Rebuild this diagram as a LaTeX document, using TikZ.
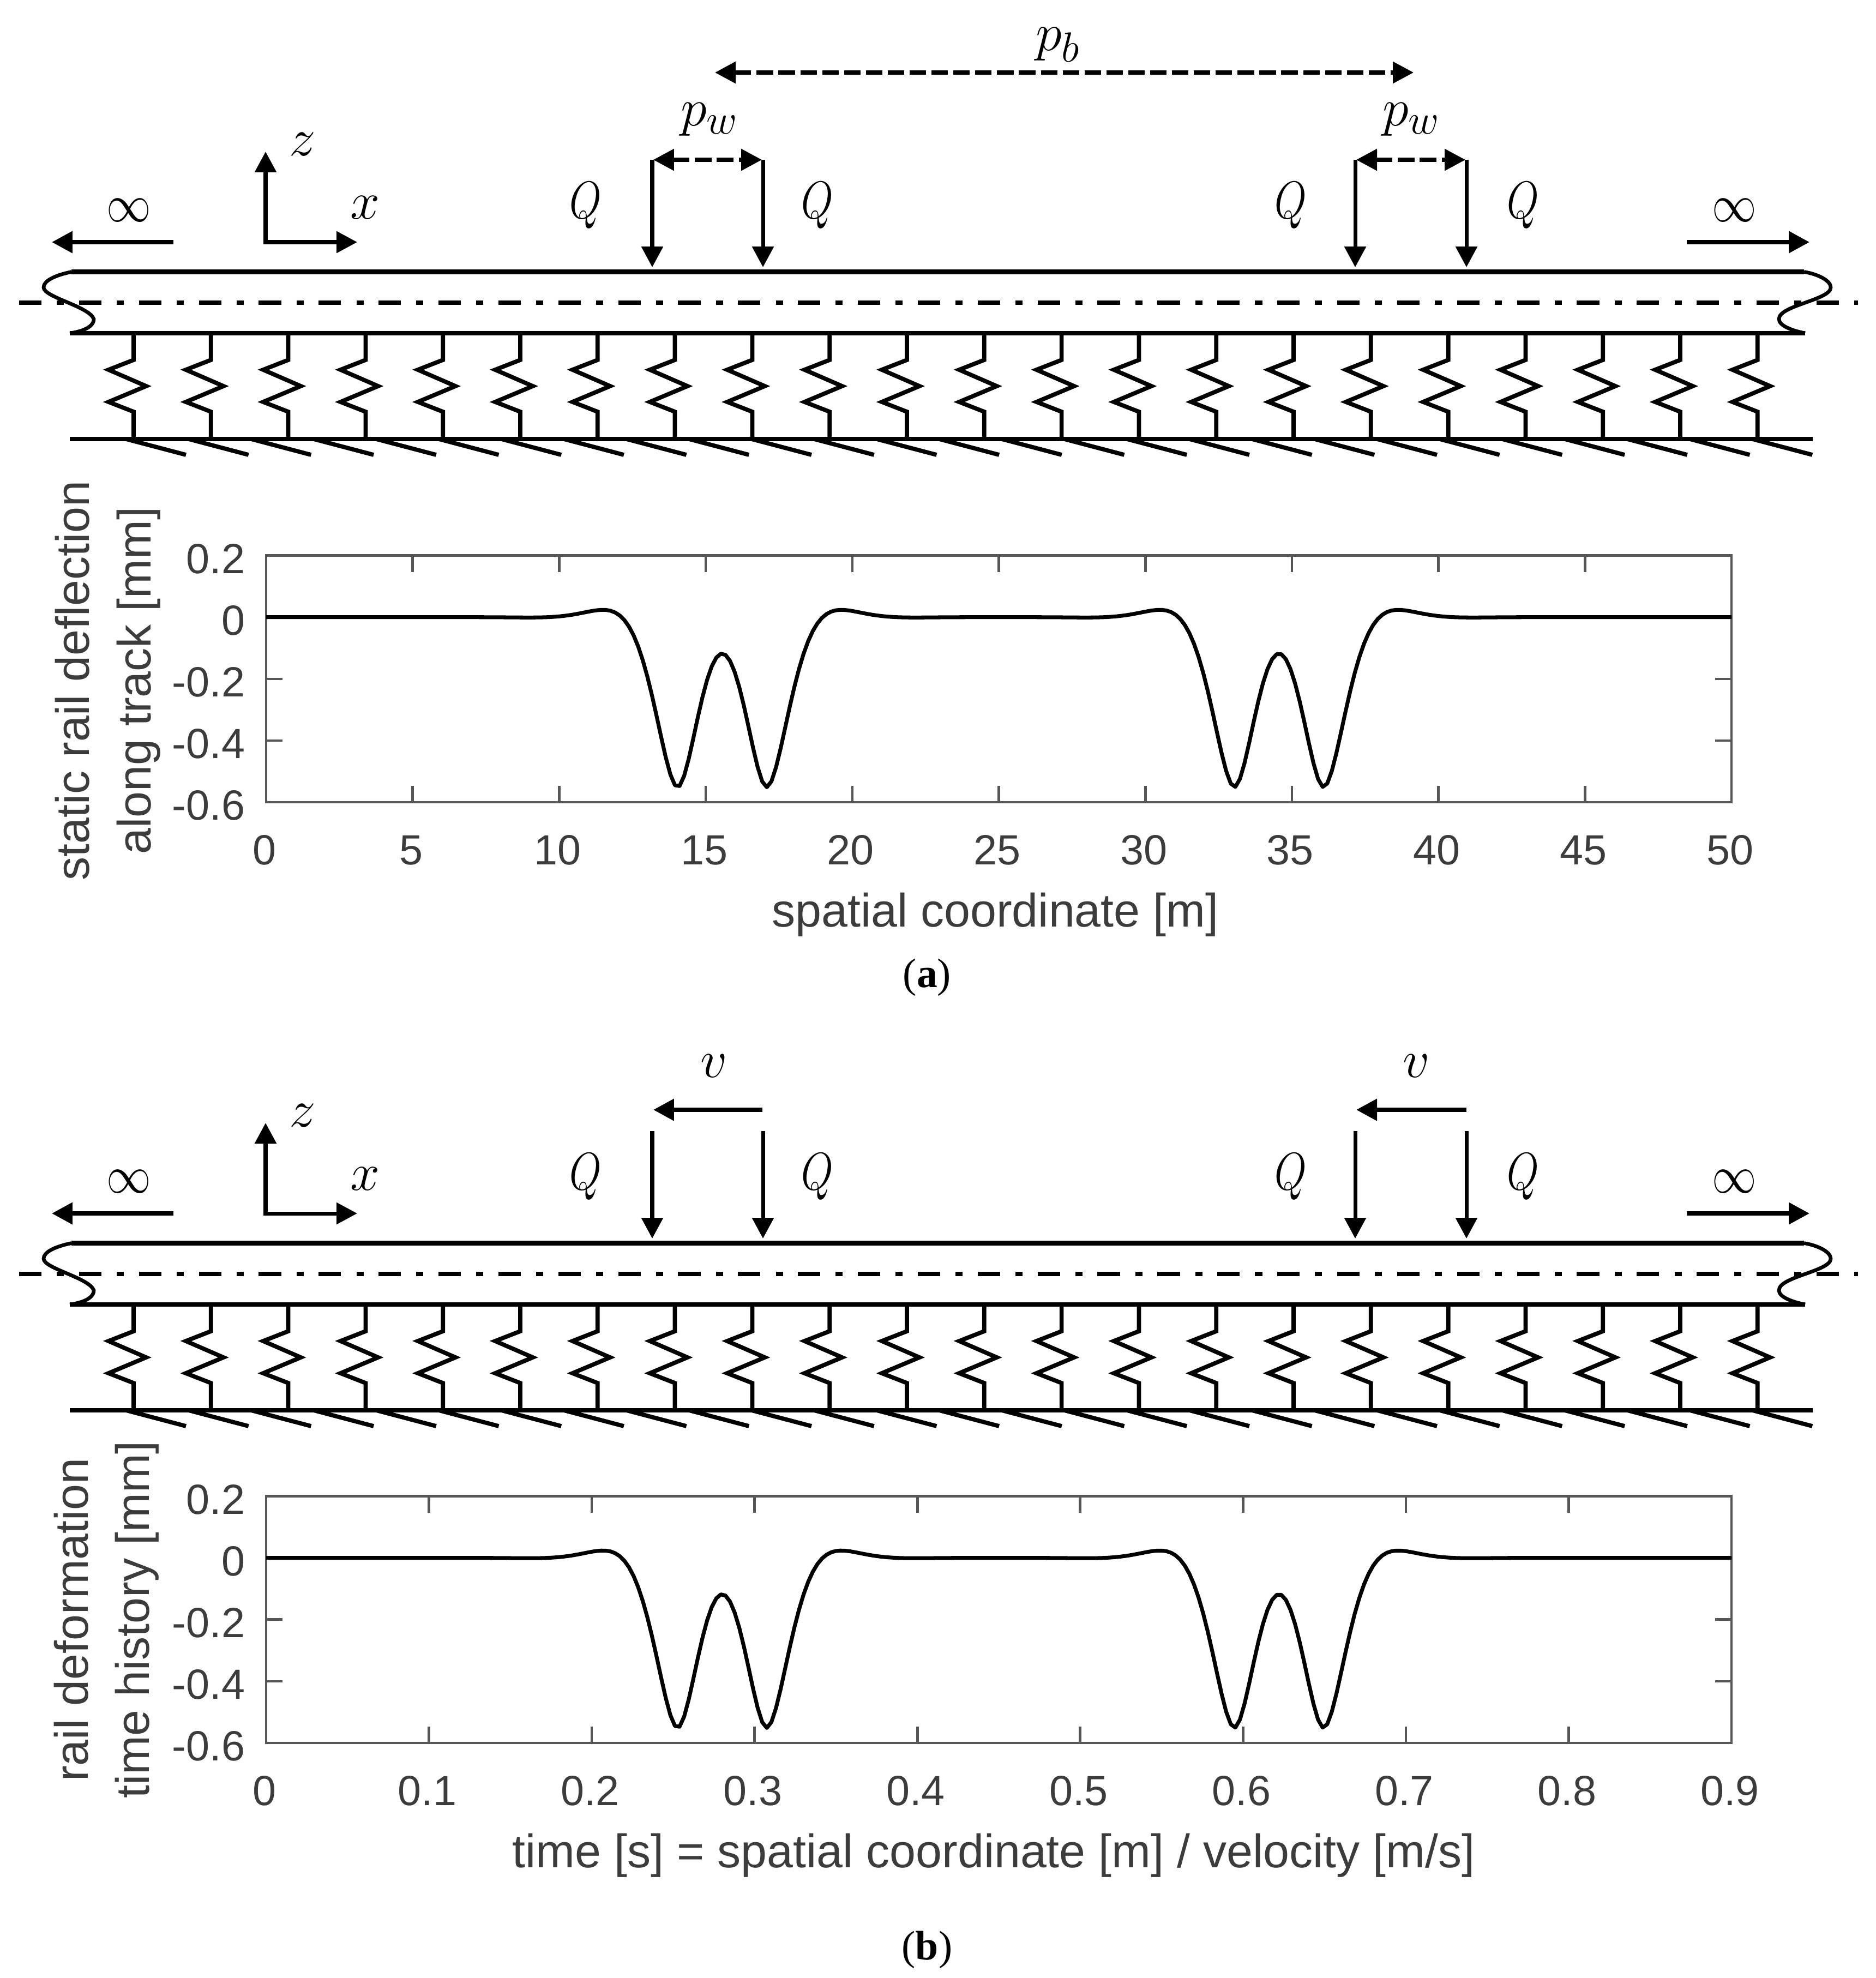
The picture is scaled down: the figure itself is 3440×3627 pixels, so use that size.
\documentclass[tikz,border=0pt]{standalone}
\usepackage{fix-cm}
\usepackage{graphicx}
\usepackage{amsmath,amssymb}
\usepackage{fontspec}
\setmainfont{Liberation Sans}
\newfontfamily\capfont{Liberation Serif}
\DeclareMathSizes{27.6}{27.6}{22}{17}
\usetikzlibrary{arrows.meta}
\definecolor{axisgray}{HTML}{565656}
\definecolor{textgray}{HTML}{3C3C3C}
\tikzset{
	>={Triangle[length=10.8pt,width=11pt]},
	rail/.style={line width=2.5pt},
	railend/.style={line width=1.9pt},
	centerline/.style={line width=2.5pt,dash pattern=on 11.7pt off 8pt on 3.7pt off 7.84pt},
	spring/.style={line width=2.2pt,miter limit=10},
	hatchline/.style={line width=2.2pt},
	force/.style={line width=2pt,->},
	span/.style={line width=2pt,<->,dash pattern=on 8.6pt off 2.8pt},
	farrow/.style={line width=2.3pt,->},
	mathlab/.style={font=\fontsize{27.6}{30}\selectfont,inner sep=0pt,text=black},
	axframe/.style={line width=1.3pt,draw=axisgray},
	axtick/.style={line width=1.3pt,draw=axisgray},
	defl/.style={line width=2pt,line join=round},
	ticklab/.style={font=\fontsize{22}{24}\selectfont,inner sep=0pt,text=textgray},
	axlab/.style={font=\fontsize{24.5}{26}\selectfont,inner sep=0pt,text=textgray},
	caplab/.style={font=\capfont\fontsize{21.5}{24}\selectfont,inner sep=0pt,text=black},
	declare function={
		eta(\d)=exp(-1.235*abs(\d))*(cos(deg(1.235*abs(\d)))+sin(deg(1.235*abs(\d))));
		railw(\s)=-0.57*(eta(\s-14.05)+eta(\s-17.07)+eta(\s-33.05)+eta(\s-36.07));
	}
}
\begin{document}
\begin{tikzpicture}[x=0.01cm,y=-0.01cm]
	\useasboundingbox (0,0) rectangle (3440,3627);
	\def\xl{488}
	\def\xr{3175}
	\def\ya{1018.6}
	\def\yb{1471}
	\def\yc{2743.5}
	\def\yd{3196}
	\foreach \dy in {0,1781} {
		\begin{scope}[shift={(0,\dy)}]
			\coordinate (RTL) at (131,498.5);
			\coordinate (RTR) at (3308,498.5);
			\coordinate (RBL) at (128,611);
			\coordinate (RBR) at (3310,611);
			\coordinate (CL) at (35,555);
			\coordinate (CR) at (3407,555);
			\coordinate (GL) at (128,805);
			\coordinate (GR) at (3324,805);
			\draw[rail] (RTL) -- (RTR);
			\draw[rail] (RBL) -- (RBR);
			\draw[rail] (GL) -- (GR);
			\draw[centerline] (CL) -- (CR);
			\draw[railend] (RTL) .. controls (100,505) and (80,515) .. (80,527) .. controls (80,545) and (164,562) .. (172,585) .. controls (172,600) and (150,608) .. (RBL);
			\draw[railend] (RTR) .. controls (3335,503) and (3357,515) .. (3357,527) .. controls (3357,550) and (3262,560) .. (3262,585) .. controls (3262,597) and (3285,606) .. (RBR);
			\foreach \k in {0,...,21} {
				\def\xs{245+141.8*\k}
				\draw[spring] ({\xs},611) -- ({\xs},660) -- ({\xs-46},678) -- ({\xs+23},708) -- ({\xs-46},737) -- ({\xs},755) -- ({\xs},805);
			}
			\foreach \k in {0,...,26} {
				\def\xh{341+114.7*\k}
				\draw[hatchline] ({\xh-110},805) -- ({\xh},834);
			}
			\coordinate (O) at (487,444);
			\coordinate (Zt) at (487,278);
			\coordinate (Xt) at (655,444);
			\draw[line width=2pt,<->] (Zt) -- (O) -- (Xt);
			\node[mathlab] (zlab) at (555,265) {$z$};
			\node[mathlab] (xlab) at (669,381) {$x$};
			\coordinate (ILa) at (318,444);
			\coordinate (ILb) at (95,444);
			\coordinate (IRa) at (3093,444);
			\coordinate (IRb) at (3318,444);
			\draw[farrow] (ILa) -- (ILb);
			\draw[farrow] (IRa) -- (IRb);
			\node[mathlab] (infl) at (236,386) {\scalebox{0.84}[1]{$\infty$}};
			\node[mathlab] (infr) at (3180,386) {\scalebox{0.84}[1]{$\infty$}};
			\foreach \xq/\xt in {1196/1074,1399/1499,2485/2367,2689/2793} {
				\coordinate (Qa) at (\xq,293);
				\coordinate (Qb) at (\xq,490);
				\draw[force] (Qa) -- (Qb);
				\node[mathlab] (Qlab\xq) at (\xt,377) {\scalebox{0.78}[1]{$Q$}};
			}
		\end{scope}
	}
	\coordinate (PbL) at (1311,133);
	\coordinate (PbR) at (2592,133);
	\draw[span] (PbL) -- (PbR);
	\node[mathlab] (pb) at (1940,82) {$p_b$};
	\coordinate (PwaL) at (1198,293);
	\coordinate (PwaR) at (1397,293);
	\coordinate (PwbL) at (2487,293);
	\coordinate (PwbR) at (2687,293);
	\draw[span] (PwaL) -- (PwaR);
	\draw[span] (PwbL) -- (PwbR);
	\node[mathlab] (pwa) at (1301,219) {$p_w$};
	\node[mathlab] (pwb) at (2588,219) {$p_w$};
	\coordinate (Vaa) at (1398,2035);
	\coordinate (Vab) at (1198,2035);
	\coordinate (Vba) at (2689,2035);
	\coordinate (Vbb) at (2487,2035);
	\draw[farrow] (Vaa) -- (Vab);
	\draw[farrow] (Vba) -- (Vbb);
	\node[mathlab] (va) at (1309,1955) {$v$};
	\node[mathlab] (vb) at (2597,1955) {$v$};
	\coordinate (FAa) at (\xl,\ya);
	\coordinate (FAb) at (\xr,\yb);
	\coordinate (FBa) at (\xl,\yc);
	\coordinate (FBb) at (\xr,\yd);
	\draw[axframe] (FAa) rectangle (FAb);
	\draw[axframe] (FBa) rectangle (FBb);
	\foreach \lab [count=\i from 0] in {0,5,10,15,20,25,30,35,40,45,50} {
		\def\xt{\xl+268.7*\i}
		\draw[axtick] ({\xt},\ya) -- ({\xt},\ya+30);
		\draw[axtick] ({\xt},\yb) -- ({\xt},\yb-30);
		\node[ticklab] (xtA\i) at ({\xt-3},1559) {\lab};
	}
	\foreach \lab [count=\i from 0] in {0,0.1,0.2,0.3,0.4,0.5,0.6,0.7,0.8,0.9} {
		\def\xt{\xl+298.55*\i}
		\draw[axtick] ({\xt},\yc) -- ({\xt},\yc+30);
		\draw[axtick] ({\xt},\yd) -- ({\xt},\yd-30);
		\node[ticklab] (xtB\i) at ({\xt-3},3284) {\lab};
	}
	\foreach \lab [count=\i from 0] in {0.2,0,-0.2,-0.4,-0.6} {
		\def\tA{\ya+113.1*\i}
		\def\tB{\yc+113.1*\i}
		\draw[axtick] (\xl,{\tA}) -- (\xl+30,{\tA});
		\draw[axtick] (\xr,{\tA}) -- (\xr-30,{\tA});
		\draw[axtick] (\xl,{\tB}) -- (\xl+30,{\tB});
		\draw[axtick] (\xr,{\tB}) -- (\xr-30,{\tB});
		\node[ticklab,anchor=east] (ytA\i) at (450,{\tA+6}) {\lab};
		\node[ticklab,anchor=east] (ytB\i) at (450,{\tB+6}) {\lab};
	}
	\draw[defl] plot[domain=0:50,samples=320,variable=\s] ({\xl+53.74*\s},{\ya+113.1-565.5*railw(\s)});
	\draw[defl] plot[domain=0:50,samples=320,variable=\s] ({\xl+53.74*\s},{\yc+113.1-565.5*railw(\s)});
	\node[axlab,anchor=base,rotate=90] (ylabAa) at (163,1248) {static rail deflection};
	\node[axlab,anchor=base,rotate=90] (ylabAb) at (276,1248) {along track [mm]};
	\node[axlab,anchor=base,rotate=90] (ylabBa) at (161,2970) {rail deformation};
	\node[axlab,anchor=base,rotate=90] (ylabBb) at (273,2970) {time history [mm]};
	\node[axlab] (xlabA) at (1825,1677) {spatial coordinate [m]};
	\node[axlab] (xlabB) at (1822,3402) {time [s] = spatial coordinate [m] / velocity [m/s]};
	\node[caplab] (capa) at (1700,1792) {(\textbf{a})};
	\node[caplab] (capb) at (1700,3575) {(\textbf{b})};
\end{tikzpicture}
\end{document}
